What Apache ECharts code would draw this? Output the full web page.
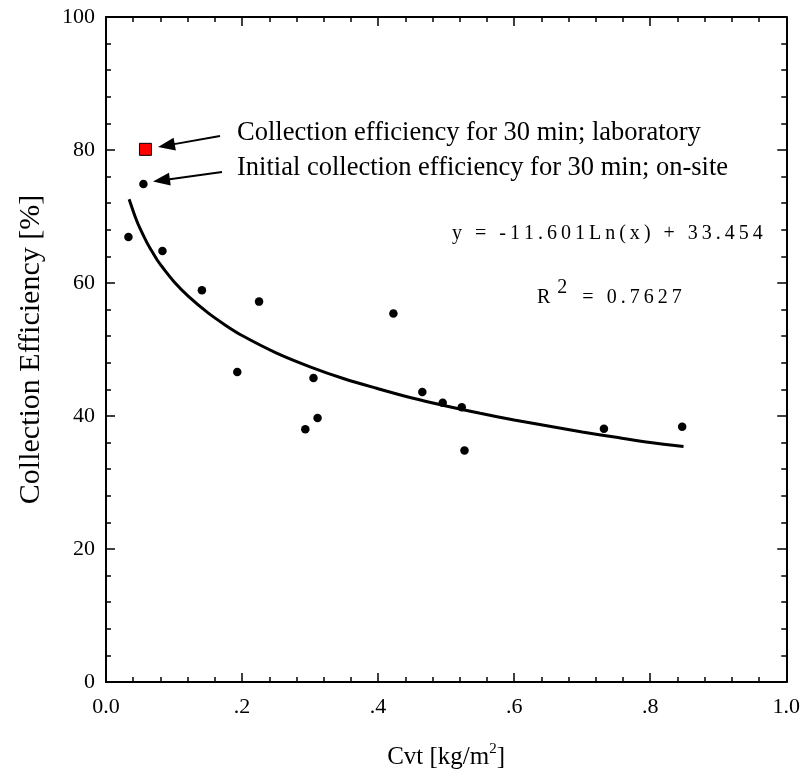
<!DOCTYPE html>
<html>
<head>
<meta charset="utf-8">
<script src="https://cdn.jsdelivr.net/npm/echarts@6/dist/echarts.min.js"></script>
<style>
html,body{margin:0;padding:0;background:#fff;}
#c{width:803px;height:778px;}
</style>
</head>
<body>
<div id="c"></div>
<script>
// ---- data ----
const cvt = [0.033, 0.055, 0.083, 0.141, 0.193, 0.225, 0.293, 0.305, 0.311, 0.4225, 0.465, 0.495, 0.523, 0.527, 0.732, 0.847];
const efficiency = [66.9, 74.9, 64.8, 58.9, 46.6, 57.2, 38.0, 45.7, 39.7, 55.4, 43.6, 42.0, 41.3, 34.8, 38.1, 38.4];
const labCvt = [0.058];
const labEfficiency = [80.1];
// fitted curve
const fitX = [0.034, 0.04, 0.045, 0.05, 0.06, 0.065, 0.075, 0.085, 0.1, 0.12, 0.15, 0.175, 0.2, 0.25, 0.3, 0.35, 0.4, 0.45, 0.5, 0.55, 0.6, 0.65, 0.7, 0.75, 0.8, 0.849];
const fitY = [72.6, 70.8, 69.4, 68.2, 66.1, 65.2, 63.5, 62.1, 60.2, 58.1, 55.5, 53.7, 52.1, 49.5, 47.4, 45.6, 44.1, 42.7, 41.5, 40.4, 39.4, 38.5, 37.6, 36.8, 36.0, 35.4];
const xTickLabels = ['0.0', '.2', '.4', '.6', '.8', '1.0'];
const yTickLabels = ['0', '20', '40', '60', '80', '100'];
const annotLab = 'Collection efficiency for 30 min; laboratory';
const annotSite = 'Initial collection efficiency for 30 min; on-site';
const equationText = 'y = -11.601Ln(x) + 33.454';
const r2Value = ' = 0.7627';

const FONT = '"Liberation Serif", "Times New Roman", serif';
const spaced = s => s.split('').join('\u2009');

const chart = echarts.init(document.getElementById('c'), null, {renderer: 'canvas'});

function axisCommon(extra) {
  return Object.assign({
    type: 'value',
    axisLine: {show: true, onZero: false, lineStyle: {color: '#000', width: 2}},
    axisTick: {show: true, inside: true, length: 9, lineStyle: {color: '#000', width: 1.5}},
    minorTick: {show: true, splitNumber: 5, length: 5, lineStyle: {color: '#000', width: 1.5}},
    splitLine: {show: false},
    minorSplitLine: {show: false}
  }, extra);
}

function arrow(x1, y1, x2, y2) {
  const dx = x2 - x1, dy = y2 - y1;
  const len = Math.sqrt(dx * dx + dy * dy);
  const ux = dx / len, uy = dy / len;
  const hl = 17, hw = 6.5;
  const bx = x2 - ux * hl, by = y2 - uy * hl;
  return [
    {type: 'line', shape: {x1: x1, y1: y1, x2: bx + ux * 2, y2: by + uy * 2}, style: {stroke: '#000', lineWidth: 2}},
    {type: 'polygon', shape: {points: [[x2, y2], [bx - uy * hw, by + ux * hw], [bx + uy * hw, by - ux * hw]]}, style: {fill: '#000'}}
  ];
}

const option = {
  animation: false,
  backgroundColor: '#fff',
  grid: {left: 106, right: 16, top: 17, bottom: 96, containLabel: false},
  xAxis: [
    axisCommon({
      min: 0, max: 1, interval: 0.2, position: 'bottom',
      axisLabel: {
        color: '#000', fontFamily: FONT, fontSize: 22, margin: 14,
        formatter: v => xTickLabels[Math.round(v / 0.2)]
      },
      name: '{n|Cvt [kg/m}{s|2}{n|]}',
      nameLocation: 'middle', nameGap: 60,
      nameTextStyle: {
        rich: {
          n: {fontFamily: FONT, fontSize: 25, color: '#000', verticalAlign: 'bottom', lineHeight: 28},
          s: {fontFamily: FONT, fontSize: 15, color: '#000', verticalAlign: 'top', lineHeight: 28}
        }
      }
    }),
    axisCommon({
      min: 0, max: 1, interval: 0.2, position: 'top',
      axisLabel: {show: false}
    })
  ],
  yAxis: [
    axisCommon({
      min: 0, max: 100, interval: 20, position: 'left',
      axisLabel: {
        color: '#000', fontFamily: FONT, fontSize: 22, margin: 11,
        formatter: v => yTickLabels[Math.round(v / 20)]
      },
      name: 'Collection Efficiency [%]',
      nameLocation: 'middle', nameGap: 60,
      nameTextStyle: {fontFamily: FONT, fontSize: 30, color: '#000'}
    }),
    axisCommon({
      min: 0, max: 100, interval: 20, position: 'right',
      axisLabel: {show: false}
    })
  ],
  series: [
    {
      type: 'line', smooth: 0.3, showSymbol: false, silent: true,
      data: fitX.map((x, i) => [x, fitY[i]]),
      lineStyle: {color: '#000', width: 3}, z: 2
    },
    {
      type: 'scatter', symbol: 'circle', symbolSize: 8.5,
      data: cvt.map((x, i) => [x, efficiency[i]]),
      itemStyle: {color: '#000', opacity: 1}, z: 3
    },
    {
      type: 'scatter', symbol: 'rect', symbolSize: 12,
      data: labCvt.map((x, i) => [x, labEfficiency[i]]),
      itemStyle: {color: '#ff0000', borderColor: '#000', borderWidth: 1, opacity: 1}, z: 3
    }
  ],
  graphic: [
    {type: 'text', left: 237, top: 120, style: {text: annotLab, font: '26.5px ' + FONT, fill: '#000'}},
    {type: 'text', left: 237, top: 155, style: {text: annotSite, font: '26.5px ' + FONT, fill: '#000'}},
    {type: 'text', left: 452, top: 224, style: {text: spaced(equationText), font: '20px ' + FONT, fill: '#000'}},
    {type: 'text', left: 537, top: 278, style: {
      text: '{r|R}{s|2}{r|' + spaced(r2Value) + '}',
      rich: {
        r: {fontFamily: FONT, fontSize: 20, fill: '#000', verticalAlign: 'bottom', lineHeight: 30},
        s: {fontFamily: FONT, fontSize: 20, fill: '#000', verticalAlign: 'top', lineHeight: 30, padding: [0, 6, 0, 7]}
      }
    }}
  ].concat(arrow(220, 136, 158, 147)).concat(arrow(222, 172, 153, 181.5))
};

chart.setOption(option);
</script>
</body>
</html>
